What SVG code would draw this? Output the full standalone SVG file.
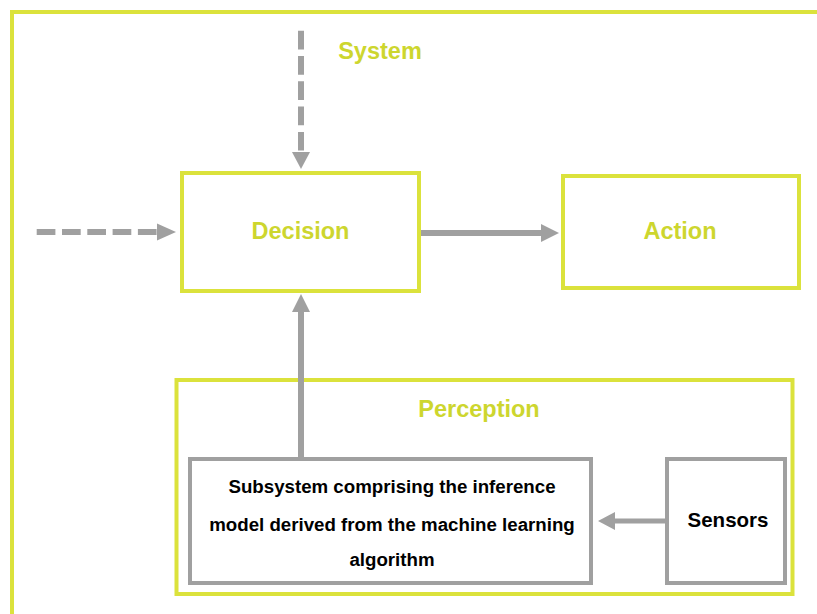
<svg xmlns="http://www.w3.org/2000/svg" width="817" height="614" viewBox="0 0 817 614">
  <style>
    .frame { fill: none; stroke: #dbe23c; stroke-width: 4; }
    .box { fill: #ffffff; stroke: #a0a0a0; stroke-width: 4; }
    .label { font-family: "Liberation Sans", Arial, sans-serif; font-weight: bold; font-size: 23.5px; fill: #cdd62e; text-anchor: middle; }
    .body { font-family: "Liberation Sans", Arial, sans-serif; font-weight: bold; font-size: 18.7px; fill: #000000; text-anchor: middle; }
    .wire { stroke: #a0a0a0; stroke-width: 6; fill: none; }
    .dash { stroke-dasharray: 18.7 6.6; }
    .head { fill: #a0a0a0; stroke: none; }
  </style>

  <rect width="817" height="614" fill="#ffffff"/>

  <!-- outer system boundary -->
  <g id="system">
    <rect class="frame" x="12" y="12" width="830" height="620"/>
    <text class="label" x="380" y="59">System</text>
  </g>

  <g id="decision">
    <rect class="frame" x="182" y="173" width="237" height="118"/>
    <text class="label" x="300.5" y="239">Decision</text>
  </g>

  <g id="action">
    <rect class="frame" x="563" y="176" width="236" height="112"/>
    <text class="label" x="680" y="239">Action</text>
  </g>

  <g id="perception">
    <rect class="frame" x="176.5" y="380" width="616" height="214"/>
    <text class="label" x="479" y="417">Perception</text>
  </g>

  <g id="subsystem">
    <rect class="box" x="190" y="459" width="401" height="124"/>
    <text class="body" x="392" y="493">Subsystem comprising the inference</text>
    <text class="body" x="392" y="531">model derived from the machine learning</text>
    <text class="body" x="392" y="566">algorithm</text>
  </g>

  <g id="sensors">
    <rect class="box" x="667" y="459" width="118" height="124"/>
    <text class="body" x="728" y="527" style="font-size:20.5px">Sensors</text>
  </g>

  <g id="connectors">
    <!-- external input from above -->
    <line class="wire dash" x1="301" y1="30.7" x2="301" y2="152"/>
    <polygon class="head" points="292,152 310,152 301,169"/>
    <!-- external input from the left -->
    <line class="wire dash" x1="36.7" y1="232" x2="157" y2="232"/>
    <polygon class="head" points="157,223.5 157,240.5 176,232"/>
    <!-- decision to action -->
    <line class="wire" x1="421" y1="233" x2="542" y2="233"/>
    <polygon class="head" points="541,224 541,242 559,233"/>
    <!-- subsystem up to decision -->
    <line class="wire" x1="301" y1="457" x2="301" y2="311"/>
    <polygon class="head" points="292,312 310,312 301,294"/>
    <!-- sensors to subsystem -->
    <line class="wire" x1="665" y1="521" x2="614" y2="521" style="stroke-width:5"/>
    <polygon class="head" points="615,512 615,530 598,521"/>
  </g>
</svg>
